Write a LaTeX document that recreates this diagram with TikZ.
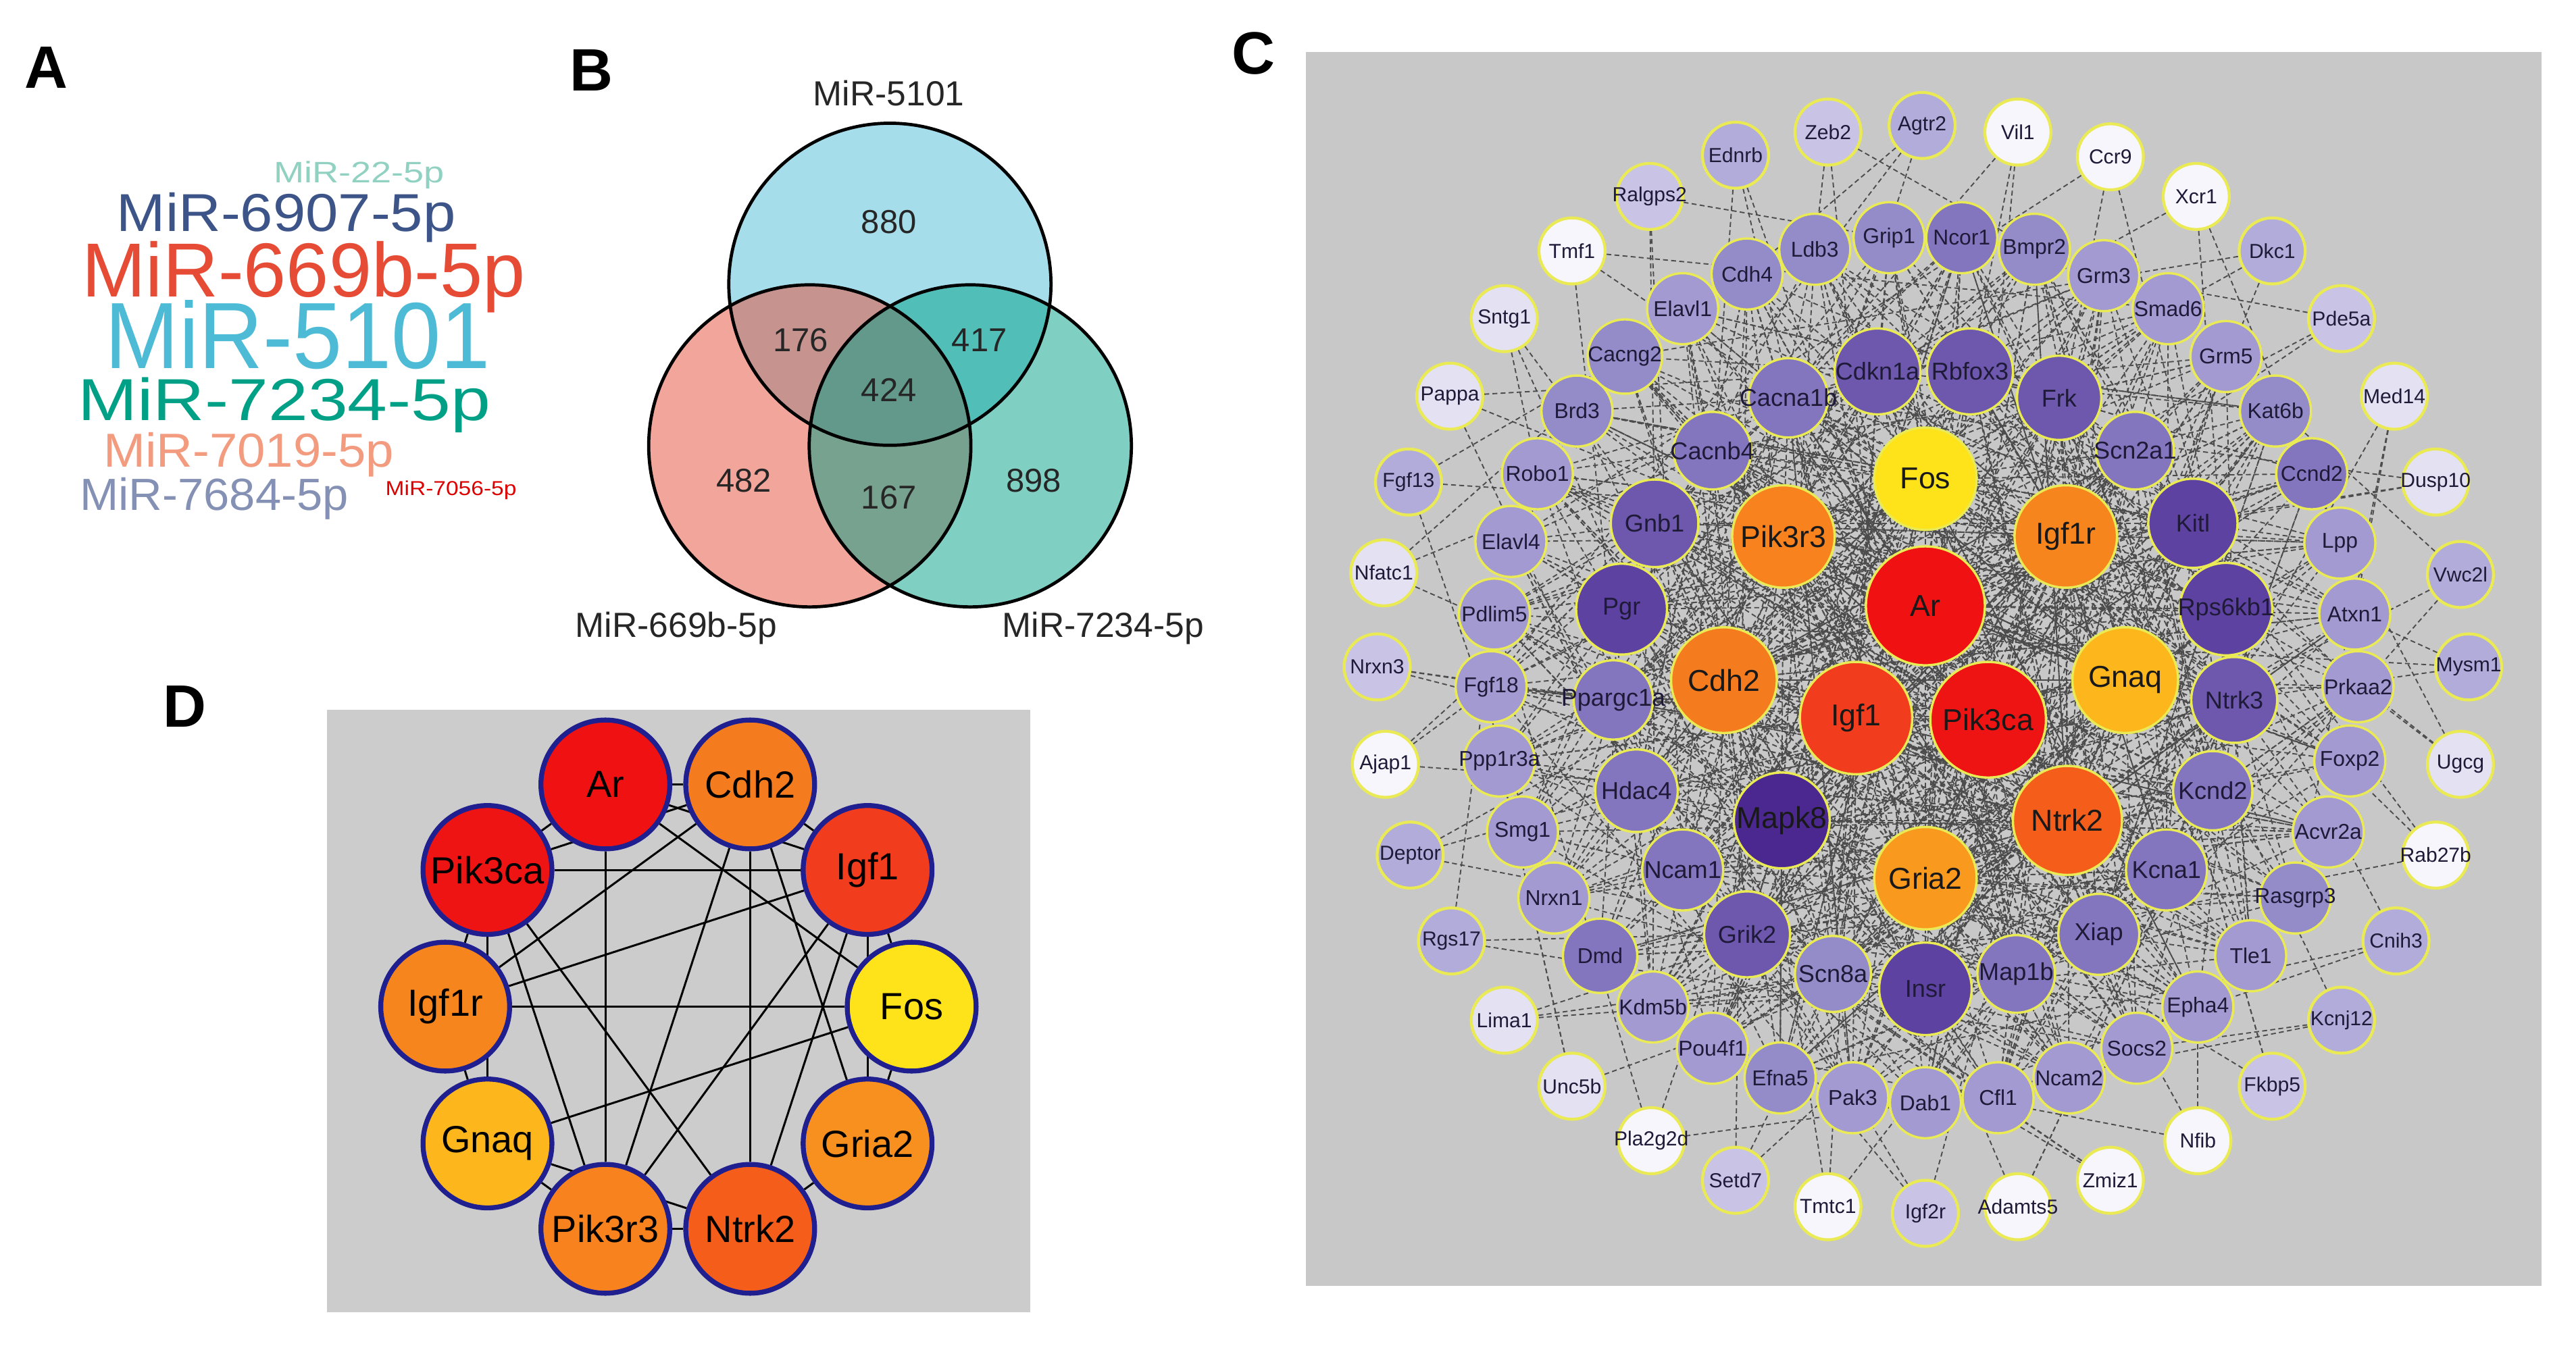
\documentclass[tikz,border=0pt]{standalone}
\usepackage{fontspec}
\setmainfont{Liberation Sans}
\usepackage{xcolor}
\usepackage{tikz}
\usetikzlibrary{positioning}
\usetikzlibrary{backgrounds}
\usetikzlibrary{calc}

\pgfdeclarelayer{panelbg}
\pgfdeclarelayer{links}
\pgfsetlayers{panelbg,links,main}

\definecolor{cgray}{HTML}{C8C8C8}
\definecolor{dgray}{HTML}{CCCCCC}
\definecolor{ringyellow}{HTML}{EAEA55}
\definecolor{hubblue}{HTML}{1F1F8F}
\definecolor{genetext}{HTML}{1E1A38}
\definecolor{pu0}{HTML}{F7F6FC}
\definecolor{pu1}{HTML}{E4E1F3}
\definecolor{pu2}{HTML}{C9C4E6}
\definecolor{pu3}{HTML}{B2ACDA}
\definecolor{pu4}{HTML}{A29AD0}
\definecolor{pu5}{HTML}{948BC9}
\definecolor{pu6}{HTML}{8476BE}
\definecolor{pu7}{HTML}{6E58AE}
\definecolor{pu8}{HTML}{5E42A2}
\definecolor{pu9}{HTML}{4B2890}
\definecolor{colAr}{HTML}{F01212}
\definecolor{colPikca}{HTML}{EE1414}
\definecolor{colIgf}{HTML}{F23C1E}
\definecolor{colFos}{HTML}{FFE31A}
\definecolor{colPikr}{HTML}{F7821E}
\definecolor{colIgfr}{HTML}{F7851E}
\definecolor{colCdh}{HTML}{F57C1E}
\definecolor{colGnaq}{HTML}{FDB71C}
\definecolor{colNtrk}{HTML}{F55E1A}
\definecolor{colGria}{HTML}{F99A1E}
\definecolor{colGriaD}{HTML}{F7901E}
\definecolor{vblue}{HTML}{4DBBD5}
\definecolor{vred}{HTML}{E64B35}
\definecolor{vgreen}{HTML}{00A087}
\definecolor{wteal}{HTML}{91D1C2}
\definecolor{wnavy}{HTML}{3C5488}
\definecolor{wsalmon}{HTML}{F39B7F}
\definecolor{wslate}{HTML}{8491B4}
\definecolor{wcrimson}{HTML}{DC0000}

\tikzset{
  panel/.style={inner sep=0pt, font=\fontsize{10.3}{12}\selectfont\bfseries},
  word/.style={anchor=base west, inner sep=0pt},
  vtext/.style={inner sep=0pt, text=black!85, font=\fontsize{6}{7}\selectfont},
  vnum/.style={inner sep=0pt, text=black!85, font=\fontsize{5.7}{7}\selectfont},
  gene/.style={circle, draw=ringyellow, line width=0.4pt, inner sep=0pt, text=genetext,
    execute at begin node={\hbox to 0pt\bgroup\hss}, execute at end node={\hss\egroup}},
  coreg/.style={gene, font=\fontsize{5.2}{6}\selectfont, text=black!90},
  innerg/.style={gene, minimum size=0.50cm, font=\fontsize{4.2}{5}\selectfont},
  midg/.style={gene, minimum size=0.43cm, font=\fontsize{3.7}{4}\selectfont},
  outerg/.style={gene, minimum size=0.40cm, line width=0.5pt, font=\fontsize{3.5}{4}\selectfont},
  link/.style={draw=black!70, line width=0.22pt, dash pattern=on 0.85pt off 0.55pt},
  hub/.style={circle, draw=hubblue, line width=0.85pt, minimum size=0.78cm, inner sep=0pt, font=\fontsize{6.5}{7}\selectfont},
  hublink/.style={draw=black, line width=0.35pt}
}

\def\genes{{"fos","pik3r3","igf1r","ar","cdh2","gnaq","igf1","pik3ca","mapk8","ntrk2","gria2",
"cdkn1a","rbfox3","frk","scn2a1","kitl","rps6kb1","ntrk3","kcnd2","kcna1","xiap","map1b","insr","scn8a","grik2","ncam1","hdac4","ppargc1a","pgr","gnb1","cacnb4","cacna1b",
"ldb3","grip1","ncor1","bmpr2","grm3","smad6","grm5","kat6b","ccnd2","lpp","atxn1","prkaa2","foxp2","acvr2a","rasgrp3","tle1","epha4","socs2","ncam2","cfl1","dab1","pak3","efna5","pou4f1","kdm5b","dmd","nrxn1","smg1","ppp1r3a","fgf18","pdlim5","elavl4","robo1","brd3","cacng2","elavl1","cdh4"}}

\begin{document}
\begin{tikzpicture}[x=0.01cm, y=-0.01cm]
\useasboundingbox (0,0) rectangle (1560,815);

\node[panel] (labA) at (28,41) {A};
\node[panel] (labB) at (358,42.4) {B};
\node[panel] (labC) at (759,32.5) {C};
\node[panel] (labD) at (112,427.8) {D};

\node[word, text=wteal, font=\fontsize{6.3}{7}\selectfont] (w22) at (165,110.5) {\scalebox{1}[0.81]{MiR-22-5p}};
\node[word, text=wnavy, font=\fontsize{10.1}{11}\selectfont] (w6907) at (70,140) {\scalebox{1}[0.91]{MiR-6907-5p}};
\node[word, text=vred, font=\fontsize{13.2}{14}\selectfont] (w669) at (49,180) {MiR-669b-5p};
\node[word, text=vblue, font=\fontsize{15.3}{16}\selectfont] (w5101) at (63,223.3) {\scalebox{1}[1.06]{MiR-5101}};
\node[word, text=vgreen, font=\fontsize{12.3}{13}\selectfont] (w7234) at (46.5,254.7) {\scalebox{1}[0.83]{MiR-7234-5p}};
\node[word, text=wsalmon, font=\fontsize{8.65}{9}\selectfont] (w7019) at (62,283) {\scalebox{1}[0.95]{MiR-7019-5p}};
\node[word, text=wslate, font=\fontsize{8}{9}\selectfont] (w7684) at (47.7,308.9) {\scalebox{1}[0.97]{MiR-7684-5p}};
\node[word, text=wcrimson, font=\fontsize{3.9}{4}\selectfont] (w7056) at (232.8,300.2) {\scalebox{1}[0.89]{MiR-7056-5p}};

\fill[vblue, fill opacity=0.5] (538.9,172.2) circle [radius=0.975cm];
\fill[vred, fill opacity=0.5] (490.4,270.1) circle [radius=0.975cm];
\fill[vgreen, fill opacity=0.5] (587.6,270.1) circle [radius=0.975cm];
\draw[line width=0.55pt] (538.9,172.2) circle [radius=0.975cm];
\draw[line width=0.55pt] (490.4,270.1) circle [radius=0.975cm];
\draw[line width=0.55pt] (587.6,270.1) circle [radius=0.975cm];

\node[vtext, anchor=base] (set5101) at (538.3,64) {MiR-5101};
\node[vtext, anchor=base] (set669) at (409.5,386) {MiR-669b-5p};
\node[vtext, anchor=base] (set7234) at (668,386) {MiR-7234-5p};
\node[vnum] (v880) at (538.3,134.4) {880};
\node[vnum] (v176) at (484.9,206.2) {176};
\node[vnum] (v417) at (593.1,206.2) {417};
\node[vnum] (v424) at (538.3,236.2) {424};
\node[vnum] (v482) at (450.6,291) {482};
\node[vnum] (v167) at (538.3,301.4) {167};
\node[vnum] (v898) at (626,291) {898};

\begin{pgfonlayer}{panelbg}
\fill[cgray] (791,31.6) rectangle (1539,779);
\fill[dgray] (198,430) rectangle (624,795);
\end{pgfonlayer}

\node[hub, fill=colAr] (dar) at (366.6,475.2) {Ar};
\node[hub, fill=colCdh] (dcdh2) at (454.3,475.2) {Cdh2};
\node[hub, fill=colPikca] (dpik3ca) at (295.2,527) {Pik3ca};
\node[hub, fill=colIgf] (digf1) at (525.4,527) {Igf1};
\node[hub, fill=colIgfr] (digf1r) at (269.6,609.8) {Igf1r};
\node[hub, fill=colFos] (dfos) at (552.1,609.8) {Fos};
\node[hub, fill=colGnaq] (dgnaq) at (295.2,692.7) {Gnaq};
\node[hub, fill=colGriaD] (dgria2) at (525.4,692.7) {Gria2};
\node[hub, fill=colPikr] (dpik3r3) at (366.6,744.4) {Pik3r3};
\node[hub, fill=colNtrk] (dntrk2) at (454.3,744.4) {Ntrk2};

\node[coreg, minimum size=0.62cm, fill=colFos] (fos) at (1166,290) {Fos};
\node[coreg, minimum size=0.62cm, fill=colPikr] (pik3r3) at (1080,325) {Pik3r3};
\node[coreg, minimum size=0.62cm, fill=colIgfr] (igf1r) at (1251,325) {Igf1r};
\node[coreg, minimum size=0.72cm, fill=colAr] (ar) at (1166,367) {Ar};
\node[coreg, minimum size=0.64cm, fill=colCdh] (cdh2) at (1044,412) {Cdh2};
\node[coreg, minimum size=0.64cm, fill=colGnaq] (gnaq) at (1287,412) {Gnaq};
\node[coreg, minimum size=0.68cm, fill=colIgf] (igf1) at (1124,435) {Igf1};
\node[coreg, minimum size=0.70cm, fill=colPikca] (pik3ca) at (1204,436) {Pik3ca};
\node[coreg, minimum size=0.58cm, fill=pu9] (mapk8) at (1079,497) {Mapk8};
\node[coreg, minimum size=0.66cm, fill=colNtrk] (ntrk2) at (1252,497) {Ntrk2};
\node[coreg, minimum size=0.62cm, fill=colGria] (gria2) at (1166,532) {Gria2};

\node[innerg, minimum size=0.52cm, fill=pu7] (cdkn1a) at (1137,225) {Cdkn1a};
\node[innerg, minimum size=0.52cm, fill=pu7] (rbfox3) at (1193,225) {Rbfox3};
\node[innerg, minimum size=0.51cm, fill=pu7] (frk) at (1247,241) {Frk};
\node[innerg, minimum size=0.47cm, fill=pu6] (scn2a1) at (1293,273) {Scn2a1};
\node[innerg, minimum size=0.54cm, fill=pu8] (kitl) at (1328,317) {Kitl};
\node[innerg, minimum size=0.56cm, fill=pu8] (rps6kb1) at (1348,369) {Rps6kb1};
\node[innerg, minimum size=0.52cm, fill=pu7] (ntrk3) at (1353,424) {Ntrk3};
\node[innerg, minimum size=0.48cm, fill=pu6] (kcnd2) at (1340,479) {Kcnd2};
\node[innerg, minimum size=0.49cm, fill=pu6] (kcna1) at (1312,527) {Kcna1};
\node[innerg, minimum size=0.49cm, fill=pu6] (xiap) at (1271,566) {Xiap};
\node[innerg, minimum size=0.47cm, fill=pu6] (map1b) at (1221,590) {Map1b};
\node[innerg, minimum size=0.56cm, fill=pu8] (insr) at (1166,599) {Insr};
\node[innerg, minimum size=0.46cm, fill=pu5] (scn8a) at (1110,590) {Scn8a};
\node[innerg, minimum size=0.52cm, fill=pu7] (grik2) at (1058,566) {Grik2};
\node[innerg, minimum size=0.49cm, fill=pu6] (ncam1) at (1019,527) {Ncam1};
\node[innerg, minimum size=0.50cm, fill=pu6] (hdac4) at (991,479) {Hdac4};
\node[innerg, minimum size=0.48cm, fill=pu6] (ppargc1a) at (977,424) {Ppargc1a};
\node[innerg, minimum size=0.55cm, fill=pu8] (pgr) at (982,369) {Pgr};
\node[innerg, minimum size=0.53cm, fill=pu7] (gnb1) at (1002,317) {Gnb1};
\node[innerg, minimum size=0.47cm, fill=pu6] (cacnb4) at (1037,273) {Cacnb4};
\node[innerg, minimum size=0.48cm, fill=pu6] (cacna1b) at (1083,241) {Cacna1b};

\node[midg, fill=pu5] (ldb3) at (1099,151) {Ldb3};
\node[midg, fill=pu5] (grip1) at (1144,144) {Grip1};
\node[midg, fill=pu6] (ncor1) at (1188,144) {Ncor1};
\node[midg, fill=pu5] (bmpr2) at (1232,151) {Bmpr2};
\node[midg, fill=pu4] (grm3) at (1274,167) {Grm3};
\node[midg, fill=pu4] (smad6) at (1313,187) {Smad6};
\node[midg, fill=pu4] (grm5) at (1348,216) {Grm5};
\node[midg, fill=pu5] (kat6b) at (1378,249) {Kat6b};
\node[midg, fill=pu6] (ccnd2) at (1400,287) {Ccnd2};
\node[midg, fill=pu4] (lpp) at (1417,329) {Lpp};
\node[midg, fill=pu4] (atxn1) at (1426,372) {Atxn1};
\node[midg, fill=pu4] (prkaa2) at (1428,416) {Prkaa2};
\node[midg, fill=pu4] (foxp2) at (1423,461) {Foxp2};
\node[midg, fill=pu4] (acvr2a) at (1410,504) {Acvr2a};
\node[midg, fill=pu5] (rasgrp3) at (1390,544) {Rasgrp3};
\node[midg, fill=pu4] (tle1) at (1363,579) {Tle1};
\node[midg, fill=pu4] (epha4) at (1331,610) {Epha4};
\node[midg, fill=pu4] (socs2) at (1294,635) {Socs2};
\node[midg, fill=pu4] (ncam2) at (1253,653) {Ncam2};
\node[midg, fill=pu4] (cfl1) at (1210,665) {Cfl1};
\node[midg, fill=pu4] (dab1) at (1166,668) {Dab1};
\node[midg, fill=pu4] (pak3) at (1122,665) {Pak3};
\node[midg, fill=pu5] (efna5) at (1078,653) {Efna5};
\node[midg, fill=pu4] (pou4f1) at (1037,635) {Pou4f1};
\node[midg, fill=pu4] (kdm5b) at (1001,610) {Kdm5b};
\node[midg, minimum size=0.45cm, fill=pu6] (dmd) at (969,579) {Dmd};
\node[midg, fill=pu4] (nrxn1) at (941,544) {Nrxn1};
\node[midg, fill=pu4] (smg1) at (922,504) {Smg1};
\node[midg, fill=pu4] (ppp1r3a) at (908,461) {Ppp1r3a};
\node[midg, fill=pu4] (fgf18) at (903,416) {Fgf18};
\node[midg, fill=pu4] (pdlim5) at (905,372) {Pdlim5};
\node[midg, fill=pu4] (elavl4) at (915,328) {Elavl4};
\node[midg, fill=pu4] (robo1) at (931,287) {Robo1};
\node[midg, fill=pu5] (brd3) at (955,249) {Brd3};
\node[midg, minimum size=0.45cm, fill=pu5] (cacng2) at (984,216) {Cacng2};
\node[midg, fill=pu4] (elavl1) at (1019,187) {Elavl1};
\node[midg, fill=pu5] (cdh4) at (1058,166) {Cdh4};

\node[outerg, fill=pu3] (agtr2) at (1164,76) {Agtr2};
\node[outerg, fill=pu2] (zeb2) at (1107,80) {Zeb2};
\node[outerg, fill=pu0] (vil1) at (1222,80) {Vil1};
\node[outerg, fill=pu3] (ednrb) at (1051,94) {Ednrb};
\node[outerg, fill=pu0] (ccr9) at (1278,95) {Ccr9};
\node[outerg, fill=pu2] (ralgps2) at (999,119) {Ralgps2};
\node[outerg, fill=pu0] (xcr1) at (1330,119) {Xcr1};
\node[outerg, fill=pu0] (tmf1) at (952,152) {Tmf1};
\node[outerg, fill=pu3] (dkc1) at (1376,152) {Dkc1};
\node[outerg, fill=pu1] (sntg1) at (911,193) {Sntg1};
\node[outerg, fill=pu2] (pde5a) at (1418,193) {Pde5a};
\node[outerg, fill=pu1] (pappa) at (878,240) {Pappa};
\node[outerg, fill=pu1] (med14) at (1450,240) {Med14};
\node[outerg, fill=pu3] (fgf13) at (853,292) {Fgf13};
\node[outerg, fill=pu1] (dusp10) at (1475,292) {Dusp10};
\node[outerg, fill=pu1] (nfatc1) at (838,347) {Nfatc1};
\node[outerg, fill=pu3] (vwc2l) at (1490,348) {Vwc2l};
\node[outerg, fill=pu2] (nrxn3) at (834,404) {Nrxn3};
\node[outerg, fill=pu3] (mysm1) at (1495,404) {Mysm1};
\node[outerg, fill=pu0] (ajap1) at (839,463) {Ajap1};
\node[outerg, fill=pu1] (ugcg) at (1490,463) {Ugcg};
\node[outerg, fill=pu3] (deptor) at (854,518) {Deptor};
\node[outerg, fill=pu0] (rab27b) at (1475,518) {Rab27b};
\node[outerg, fill=pu3] (rgs17) at (879,570) {Rgs17};
\node[outerg, fill=pu3] (cnih3) at (1451,570) {Cnih3};
\node[outerg, fill=pu1] (lima1) at (911,618) {Lima1};
\node[outerg, fill=pu3] (kcnj12) at (1418,618) {Kcnj12};
\node[outerg, fill=pu1] (unc5b) at (952,658) {Unc5b};
\node[outerg, fill=pu2] (fkbp5) at (1376,658) {Fkbp5};
\node[outerg, fill=pu0] (pla2g2d) at (1000,691) {Pla2g2d};
\node[outerg, fill=pu0] (nfib) at (1331,691) {Nfib};
\node[outerg, fill=pu2] (setd7) at (1051,715) {Setd7};
\node[outerg, fill=pu0] (zmiz1) at (1278,715) {Zmiz1};
\node[outerg, fill=pu0] (tmtc1) at (1107,731) {Tmtc1};
\node[outerg, fill=pu0] (adamts5) at (1222,731) {Adamts5};
\node[outerg, fill=pu2] (igf2r) at (1166,735) {Igf2r};

\begin{pgfonlayer}{links}
\draw[hublink] (dar) -- (dcdh2);
\draw[hublink] (dcdh2) -- (digf1);
\draw[hublink] (digf1) -- (dfos);
\draw[hublink] (dfos) -- (dgria2);
\draw[hublink] (dgria2) -- (dntrk2);
\draw[hublink] (dntrk2) -- (dpik3r3);
\draw[hublink] (dpik3r3) -- (dgnaq);
\draw[hublink] (dgnaq) -- (digf1r);
\draw[hublink] (digf1r) -- (dpik3ca);
\draw[hublink] (dpik3ca) -- (dar);
\draw[hublink] (dpik3ca) -- (digf1);
\draw[hublink] (digf1r) -- (dfos);
\draw[hublink] (dar) -- (dpik3r3);
\draw[hublink] (dcdh2) -- (dntrk2);
\draw[hublink] (digf1r) -- (dcdh2);
\draw[hublink] (digf1r) -- (digf1);
\draw[hublink] (dpik3ca) -- (dntrk2);
\draw[hublink] (dpik3ca) -- (dpik3r3);
\draw[hublink] (dar) -- (dfos);
\draw[hublink] (dcdh2) -- (dgria2);
\draw[hublink] (digf1) -- (dpik3r3);
\draw[hublink] (digf1) -- (dntrk2);
\draw[hublink] (dfos) -- (dgnaq);
\draw[hublink] (dcdh2) -- (dpik3r3);
\draw[hublink] (dpik3ca) -- (dgnaq);
\draw[hublink] (digf1) -- (dgria2);
\draw[hublink] (dcdh2) -- (dpik3ca);
\draw[hublink] (dar) -- (digf1);
\draw[hublink] (dgnaq) -- (dntrk2);

\pgfmathsetseed{4242}
\foreach \src in {fos,pik3r3,igf1r,ar,cdh2,gnaq,igf1,pik3ca,mapk8,ntrk2,gria2}{
  \foreach \k in {1,...,30}{
    \pgfmathtruncatemacro{\j}{random(0,68)}
    \pgfmathsetmacro{\tgt}{\genes[\j]}
    \draw[link] (\src) -- (\tgt);
  }
}
\foreach \src in {cdkn1a,rbfox3,frk,scn2a1,kitl,rps6kb1,ntrk3,kcnd2,kcna1,xiap,map1b,insr,scn8a,grik2,ncam1,hdac4,ppargc1a,pgr,gnb1,cacnb4,cacna1b}{
  \foreach \k in {1,...,10}{
    \pgfmathtruncatemacro{\j}{random(0,68)}
    \pgfmathsetmacro{\tgt}{\genes[\j]}
    \draw[link] (\src) -- (\tgt);
  }
}
\foreach \src in {ldb3,grip1,ncor1,bmpr2,grm3,smad6,grm5,kat6b,ccnd2,lpp,atxn1,prkaa2,foxp2,acvr2a,rasgrp3,tle1,epha4,socs2,ncam2,cfl1,dab1,pak3,efna5,pou4f1,kdm5b,dmd,nrxn1,smg1,ppp1r3a,fgf18,pdlim5,elavl4,robo1,brd3,cacng2,elavl1,cdh4}{
  \foreach \k in {1,...,5}{
    \pgfmathtruncatemacro{\j}{random(0,31)}
    \pgfmathsetmacro{\tgt}{\genes[\j]}
    \draw[link] (\src) -- (\tgt);
  }
}
\foreach \src in {agtr2,zeb2,vil1,ednrb,ccr9,ralgps2,xcr1,tmf1,dkc1,sntg1,pde5a,pappa,med14,fgf13,dusp10,nfatc1,vwc2l,nrxn3,mysm1,ajap1,ugcg,deptor,rab27b,rgs17,cnih3,lima1,kcnj12,unc5b,fkbp5,pla2g2d,nfib,setd7,zmiz1,tmtc1,adamts5,igf2r}{
  \foreach \k in {1,2,3}{
    \pgfmathtruncatemacro{\j}{random(11,68)}
    \pgfmathsetmacro{\tgt}{\genes[\j]}
    \draw[link] (\src) -- (\tgt);
  }
}
\end{pgfonlayer}
\end{tikzpicture}
\end{document}
